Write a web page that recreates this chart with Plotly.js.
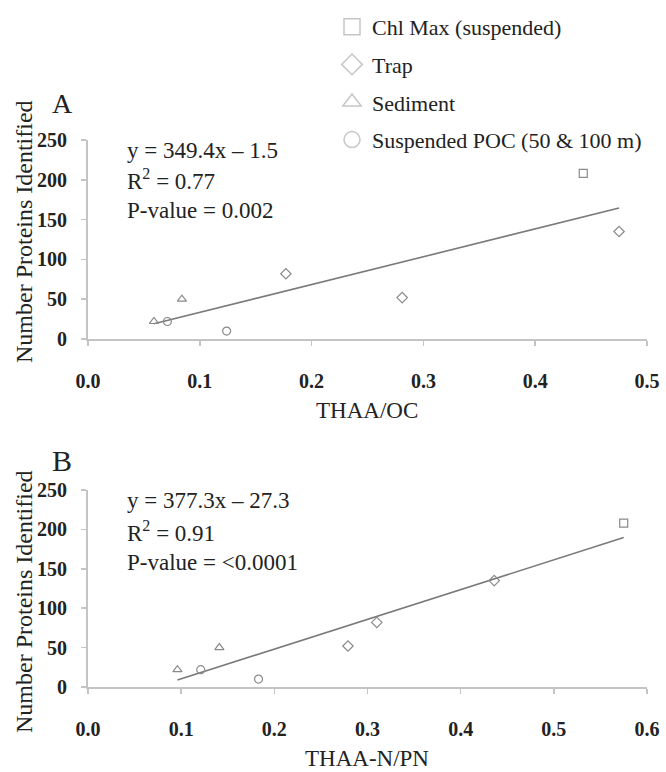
<!DOCTYPE html>
<html>
<head>
<meta charset="utf-8">
<script src="https://cdn.plot.ly/plotly-3.0.1.min.js"></script>
<style>html,body{margin:0;padding:0;background:#fff;}#chart{width:666px;height:772px;}</style>
</head>
<body>
<div id="chart"></div>
<script>
// ---------- Data ----------
const seriesNames = ["Chl Max (suspended)", "Trap", "Sediment", "Suspended POC (50 & 100 m)"];
const seriesSymbols = ["square-open", "diamond-open", "triangle-up-open", "circle-open"];

// Panel A: THAA/OC
const chlA_x = [0.443];              const chlA_y = [208];
const trapA_x = [0.177, 0.281, 0.475]; const trapA_y = [82, 52, 135];
const sedA_x = [0.059, 0.084];        const sedA_y = [22, 50];
const pocA_x = [0.071, 0.124];        const pocA_y = [22, 10];
const fitA_x = [0.059, 0.475];        const fitA_y = [19.1, 164.5];

// Panel B: THAA-N/PN
const chlB_x = [0.575];              const chlB_y = [208];
const trapB_x = [0.310, 0.279, 0.436]; const trapB_y = [82, 52, 135];
const sedB_x = [0.096, 0.141];        const sedB_y = [22, 50];
const pocB_x = [0.121, 0.183];        const pocB_y = [22, 10];
const fitB_x = [0.096, 0.575];        const fitB_y = [8.9, 189.6];

const xTicksA = [0, 0.1, 0.2, 0.3, 0.4, 0.5];
const xTicksB = [0, 0.1, 0.2, 0.3, 0.4, 0.5, 0.6];
const yTicks = [0, 50, 100, 150, 200, 250];

const eqA = ["y = 349.4x \u2013 1.5", "R<sup>2</sup> = 0.77", "P-value = 0.002"];
const eqB = ["y = 377.3x \u2013 27.3", "R<sup>2</sup> = 0.91", "P-value = <0.0001"];

// ---------- Build ----------
const W = 666, H = 772;
const FONT = "'Liberation Serif', 'Times New Roman', Times, serif";
const markColor = "#8a8a8a";
const px = v => v / W;
const py = v => 1 - v / H;

const groupsA = [[chlA_x, chlA_y], [trapA_x, trapA_y], [sedA_x, sedA_y], [pocA_x, pocA_y]];
const groupsB = [[chlB_x, chlB_y], [trapB_x, trapB_y], [sedB_x, sedB_y], [pocB_x, pocB_y]];

const traces = [];
function addPanel(groups, fx, fy, xa, ya) {
  traces.push({x: fx, y: fy, xaxis: xa, yaxis: ya, type: "scatter", mode: "lines",
    line: {color: "#7a7a7a", width: 1.6}, showlegend: false, hoverinfo: "skip"});
  groups.forEach((g, i) => {
    traces.push({x: g[0], y: g[1], xaxis: xa, yaxis: ya, type: "scatter", mode: "markers",
      marker: {symbol: seriesSymbols[i], size: 8, color: markColor, line: {width: 1.2, color: markColor}},
      showlegend: false, name: seriesNames[i]});
  });
}
addPanel(groupsA, fitA_x, fitA_y, "x", "y");
addPanel(groupsB, fitB_x, fitB_y, "x2", "y2");

// legend entries
seriesNames.forEach((n, i) => {
  traces.push({x: [null], y: [null], type: "scatter", mode: "markers", name: n,
    legendgroup: "g" + i,
    marker: {symbol: seriesSymbols[i], size: 16, color: "#c6c6c6", line: {width: 1.5, color: "#c6c6c6"}}});
});

const axisBase = {
  showline: true, linecolor: "#c4c4c4", linewidth: 2, ticks: "outside", ticklen: 5, tickwidth: 1.5,
  tickcolor: "#c4c4c4", showgrid: false, zeroline: false, fixedrange: true,
  tickfont: {family: FONT, size: 20, color: "#222", weight: "bold"}
};

const annotations = [];
function addText(text, x, y, size, opts) {
  annotations.push(Object.assign({text: text, x: px(x), y: py(y), xref: "paper", yref: "paper",
    showarrow: false, font: {family: FONT, size: size, color: "#222"}, xanchor: "left", yanchor: "middle"}, opts || {}));
}
eqA.forEach((t, i) => addText(t, 125, 150 + i * 30, 23));
eqB.forEach((t, i) => addText(t, 125, 500 + i * 31, 23));
addText("A", 50, 103, 28);
addText("B", 50, 460, 30);
addText("THAA/OC", 367, 410, 23, {xanchor: "center"});
addText("THAA-N/PN", 367, 758, 23, {xanchor: "center"});
addText("Number Proteins Identified", 24, 232, 24, {xanchor: "center", textangle: -90});
addText("Number Proteins Identified", 24, 602, 24, {xanchor: "center", textangle: -90});

const layout = {
  width: W, height: H,
  margin: {l: 0, r: 0, t: 0, b: 0},
  paper_bgcolor: "#fff", plot_bgcolor: "#fff",
  font: {family: FONT, color: "#222"},
  showlegend: true,
  legend: {x: px(332), xanchor: "left", y: py(6), yanchor: "top", bgcolor: "rgba(0,0,0,0)",
    font: {family: FONT, size: 22, color: "#222"}, tracegroupgap: 6, itemwidth: 30},
  xaxis: Object.assign({}, axisBase, {domain: [px(88), px(647)], range: [0, 0.5], tickvals: xTicksA,
    tickformat: ".1f", anchor: "y", ticklabelstandoff: 18}),
  yaxis: Object.assign({}, axisBase, {domain: [py(339), py(140)], range: [0, 250], tickvals: yTicks,
    anchor: "x", ticklabelstandoff: 10}),
  xaxis2: Object.assign({}, axisBase, {domain: [px(88), px(647)], range: [0, 0.6], tickvals: xTicksB,
    tickformat: ".1f", anchor: "y2", ticklabelstandoff: 18}),
  yaxis2: Object.assign({}, axisBase, {domain: [py(687), py(490)], range: [0, 250], tickvals: yTicks,
    anchor: "x2", ticklabelstandoff: 10}),
  annotations: annotations
};

Plotly.newPlot("chart", traces, layout, {displayModeBar: false, staticPlot: true});
</script>
</body>
</html>
